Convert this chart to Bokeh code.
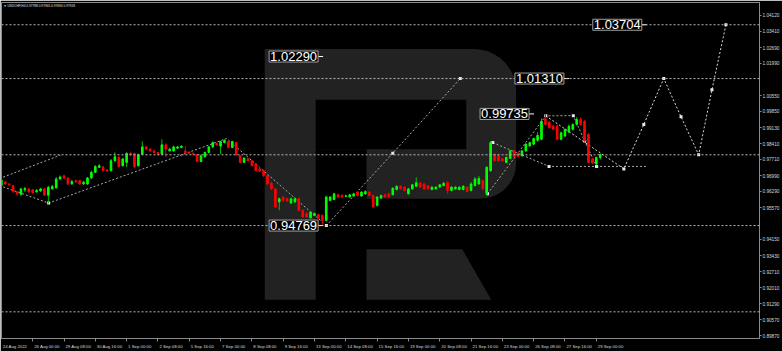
import math
from bokeh.plotting import figure
from bokeh.models import (Range1d, LinearAxis, FixedTicker, Label, NumeralTickFormatter,
                          Span, ColumnDataSource)
from bokeh.embed import file_html
from bokeh.resources import INLINE

# ---------------- data ----------------
header = "\u25BC  USDCHF,H4  0.97788 0.97965 0.97694 0.97918"

opens = [0.9655,0.9671,0.9662,0.9654,0.9627,0.9616,0.9636,0.9640,0.9636,0.9627,
         0.9631,0.9640,0.9612,0.9640,0.9645,0.9684,0.9698,0.9687,0.9662,0.9676,
         0.9677,0.9662,0.9662,0.9689,0.9714,0.9736,0.9737,0.9724,0.9721,0.9765,
         0.9780,0.9743,0.9758,0.9798,0.9797,0.9743,0.9795,0.9827,0.9817,0.9809,
         0.9802,0.9795,0.9836,0.9809,0.9809,0.9821,0.9824,0.9809,0.9802,0.9798,
         0.9792,0.9762,0.9783,0.9802,0.9827,0.9842,0.9831,0.9846,0.9851,0.9824,
         0.9846,0.9787,0.9758,0.9773,0.9765,0.9751,0.9729,0.9721,0.9699,0.9665,
         0.9640,0.9582,0.9604,0.9596,0.9577,0.9582,0.9596,0.9545,0.9530,0.9511,
         0.9522,0.9526,0.9522,0.9500,0.9589,0.9593,0.9614,0.9611,0.9607,0.9604,
         0.9608,0.9626,0.9608,0.9618,0.9626,0.9611,0.9567,0.9599,0.9614,0.9618,
         0.9614,0.9637,0.9652,0.9648,0.9618,0.9640,0.9652,0.9667,0.9662,0.9655,
         0.9637,0.9640,0.9648,0.9655,0.9669,0.9633,0.9640,0.9637,0.9637,0.9648,
         0.9633,0.9655,0.9662,0.9677,0.9618,0.9721,0.9795,0.9790,0.9773,0.9758,
         0.9776,0.9809,0.9799,0.9787,0.9809,0.9831,0.9839,0.9856,0.9861,0.9952,
         0.9937,0.9919,0.9919,0.9861,0.9875,0.9893,0.9905,0.9927,0.9949,0.9941,
         0.9883,0.9773,0.9751,0.97788]
highs = [0.9686,0.9676,0.9667,0.9658,0.9631,0.9645,0.9649,0.9645,0.9640,0.9638,
         0.9645,0.9645,0.9654,0.9658,0.9693,0.9700,0.9704,0.9693,0.9680,0.9682,
         0.9680,0.9676,0.9693,0.9720,0.9746,0.9751,0.9742,0.9729,0.9773,0.9803,
         0.9786,0.9777,0.9803,0.9803,0.9801,0.9797,0.9852,0.9832,0.9821,0.9814,
         0.9806,0.9861,0.9843,0.9823,0.9832,0.9832,0.9834,0.9830,0.9808,0.9803,
         0.9795,0.9793,0.9806,0.9830,0.9852,0.9846,0.9854,0.9861,0.9854,0.9854,
         0.9850,0.9790,0.9781,0.9777,0.9770,0.9755,0.9737,0.9726,0.9704,0.9671,
         0.9645,0.9601,0.9609,0.9601,0.9601,0.9603,0.9601,0.9548,0.9537,0.9541,
         0.9535,0.9530,0.9526,0.9609,0.9607,0.9623,0.9618,0.9616,0.9614,0.9616,
         0.9623,0.9631,0.9629,0.9634,0.9629,0.9614,0.9607,0.9614,0.9618,0.9623,
         0.9647,0.9656,0.9656,0.9651,0.9645,0.9662,0.9692,0.9671,0.9667,0.9658,
         0.9651,0.9651,0.9662,0.9671,0.9673,0.9651,0.9651,0.9651,0.9656,0.9651,
         0.9671,0.9693,0.9698,0.9682,0.9742,0.9853,0.9799,0.9795,0.9779,0.9784,
         0.9814,0.9814,0.9803,0.9814,0.9843,0.9850,0.9867,0.9892,0.9953,0.99735,
         0.9942,0.9925,0.9925,0.9894,0.9909,0.9925,0.9931,0.9960,0.9958,0.9947,
         0.9887,0.9777,0.9784,0.97965]
lows = [0.9649,0.9658,0.9654,0.9623,0.9609,0.9609,0.9627,0.9623,0.9618,0.9623,
        0.9627,0.9609,0.9574,0.9636,0.9640,0.9680,0.9684,0.9658,0.9658,0.9667,
        0.9658,0.9658,0.9658,0.9684,0.9711,0.9733,0.9718,0.9715,0.9718,0.9762,
        0.9735,0.9740,0.9737,0.9786,0.9733,0.9740,0.9790,0.9812,0.9806,0.9799,
        0.9790,0.9790,0.9781,0.9806,0.9806,0.9817,0.9821,0.9799,0.9795,0.9790,
        0.9759,0.9759,0.9779,0.9799,0.9823,0.9832,0.9795,0.9843,0.9821,0.9821,
        0.9788,0.9755,0.9755,0.9762,0.9740,0.9718,0.9715,0.9693,0.9658,0.9636,
        0.9556,0.9545,0.9585,0.9583,0.9574,0.9579,0.9541,0.9512,0.9512,0.9508,
        0.9519,0.9506,0.94769,0.9495,0.9585,0.9590,0.9601,0.9601,0.9603,0.9601,
        0.9605,0.9607,0.9605,0.9614,0.9607,0.9556,0.9561,0.9596,0.9601,0.9601,
        0.9612,0.9634,0.9637,0.9629,0.9615,0.9636,0.9649,0.9645,0.9637,0.9637,
        0.9634,0.9637,0.9645,0.9651,0.9618,0.9629,0.9637,0.9634,0.9634,0.9625,
        0.9629,0.9651,0.9658,0.9636,0.9612,0.9715,0.9762,0.9762,0.9762,0.9755,
        0.9773,0.9781,0.9781,0.9784,0.9806,0.9828,0.9834,0.9850,0.9856,0.9923,
        0.9909,0.9902,0.9856,0.9856,0.9872,0.9889,0.9900,0.9923,0.9923,0.9850,
        0.9755,0.9751,0.9746,0.97694]
closes = [0.9680,0.9662,0.9658,0.9627,0.9618,0.9640,0.9642,0.9627,0.9623,0.9634,
          0.9640,0.9612,0.9647,0.9651,0.9684,0.9693,0.9689,0.9662,0.9673,0.9671,
          0.9662,0.9670,0.9689,0.9714,0.9739,0.9743,0.9722,0.9721,0.9765,0.9783,
          0.9739,0.9773,0.9798,0.9792,0.9739,0.9792,0.9827,0.9817,0.9809,0.9802,
          0.9795,0.9836,0.9817,0.9817,0.9827,0.9827,0.9830,0.9802,0.9798,0.9795,
          0.9762,0.9787,0.9802,0.9827,0.9846,0.9836,0.9851,0.9856,0.9824,0.9851,
          0.9792,0.9758,0.9777,0.9765,0.9743,0.9721,0.9720,0.9699,0.9662,0.9640,
          0.9560,0.9596,0.9589,0.9586,0.9596,0.9596,0.9545,0.9515,0.9515,0.9537,
          0.9530,0.9508,0.9500,0.9604,0.9604,0.9618,0.9604,0.9604,0.9609,0.9614,
          0.9618,0.9611,0.9626,0.9628,0.9611,0.9560,0.9604,0.9611,0.9604,0.9604,
          0.9643,0.9652,0.9640,0.9633,0.9640,0.9658,0.9667,0.9648,0.9640,0.9640,
          0.9648,0.9648,0.9658,0.9665,0.9633,0.9648,0.9648,0.9648,0.9652,0.9628,
          0.9662,0.9684,0.9687,0.9640,0.9736,0.9846,0.9765,0.9765,0.9765,0.9780,
          0.9809,0.9784,0.9784,0.9809,0.9839,0.9846,0.9864,0.9878,0.9941,0.9927,
          0.9912,0.9905,0.9861,0.9890,0.9905,0.9919,0.9927,0.9949,0.9927,0.9853,
          0.9758,0.9755,0.9780,0.97918]

x_tick_idx = [0, 8, 16, 24, 32, 40, 48, 56, 64, 72, 80, 88, 96, 104, 112, 120, 128, 136, 144, 152]
x_tick_labels = ["24 Aug 2022", "26 Aug 00:00", "29 Aug 08:00", "30 Aug 16:00", "1 Sep 00:00",
                 "2 Sep 08:00", "5 Sep 16:00", "7 Sep 00:00", "8 Sep 08:00", "9 Sep 16:00",
                 "13 Sep 00:00", "14 Sep 08:00", "15 Sep 16:00", "19 Sep 00:00", "20 Sep 08:00",
                 "21 Sep 16:00", "23 Sep 00:00", "26 Sep 08:00", "27 Sep 16:00", "29 Sep 00:00"]

price_ticks = [1.04120, 1.03410, 1.02690, 1.01990, 1.00550, 0.99850, 0.99130, 0.98410,
               0.97710, 0.96990, 0.96290, 0.95570, 0.94150, 0.93430, 0.92710, 0.92010,
               0.91290, 0.90570, 0.89870]

level_prices = [1.03704, 1.01310, 0.97918, 0.94769, 0.90931]
level_texts = ["1.03704", "1.01310", "0.97918", "0.94769", "0.90931"]

callout_texts = ["1.02290", "0.94769", "0.99735", "1.01310", "1.03704"]
callout_prices = [1.02290, 0.94769, 0.99735, 1.01310, 1.03704]
callout_idx = [82.2, 82.2, 136.1, 145.0, 164.9]

# analyst drawings (candle index, price)
upper_x = [-0.5, 15.06]
upper_y = [0.9686, 0.9790]
lower_x = [-0.5, 12.08, 57.54, 83.03]
lower_y = [0.9655, 0.9577, 0.9864, 0.94769]
rise_x = [83.03, 100.0, 117.25]
rise_y = [0.94769, 0.9799, 1.0131]
tri_x = [125.56, 139.93, 152.08, 165.0]
tri_y = [0.9846, 0.9740, 0.9740, 0.9740]
wedge_x = [124.2, 139.09, 146.13, 149.03, 152.08]
wedge_y = [0.9618, 0.9965, 0.9966, 0.9853, 0.9740]
forecast_x = [139.09, 159.05, 164.14, 169.24, 173.65, 178.16, 181.55, 185.12]
forecast_y = [0.9965, 0.9729, 0.9927, 1.0131, 0.9961, 0.97918, 1.0081, 1.03704]

# ---------------- layout ----------------
W, H = 782, 351
FL, FT, FR, FB = 1, 2, 21, 10
FW, FH = W - FL - FR, H - FT - FB
X_START, X_END = 0.03, 193.7
Y_START, Y_END = 0.89744, 1.04694
UX = (X_END - X_START) / FW      # data per pixel (x)
UY = (Y_END - Y_START) / FH      # data per pixel (y)

def px_x(px):
    return X_START + (px - FL) * UX

def px_y(py):
    return Y_END - (py - FT) * UY

p = figure(width=W, height=H, x_range=Range1d(X_START, X_END), y_range=Range1d(Y_START, Y_END),
           x_axis_type=None, y_axis_type=None, output_backend="svg", toolbar_location=None,
           min_border_left=FL, min_border_right=FR, min_border_top=FT, min_border_bottom=FB,
           background_fill_color="black", border_fill_color="black",
           outline_line_color="#8a8a8a", outline_line_width=1)

# ---------------- watermark (decoration) ----------------
WM = "#222222"

def rrect(x0, y0, x1, y1, r_tr=0, r_br=0):
    pts = [(x0, y0)]
    if r_tr:
        for k in range(10):
            a = math.radians(270 + 90 * k / 9)
            pts.append((x1 - r_tr + r_tr * math.cos(a), y0 + r_tr + r_tr * math.sin(a)))
    else:
        pts.append((x1, y0))
    if r_br:
        for k in range(10):
            a = math.radians(90 * k / 9)
            pts.append((x1 - r_br + r_br * math.cos(a), y1 - r_br + r_br * math.sin(a)))
    else:
        pts.append((x1, y1))
    pts.append((x0, y1))
    return [px_x(a) for a, b in pts], [px_y(b) for a, b in pts]

bowl = rrect(265, 49, 517, 200, r_tr=42, r_br=36)
stem = rrect(265, 49, 316, 302)
hole = rrect(316, 100, 467, 150)
notch = rrect(316, 150, 367, 200)
leg = ([px_x(v) for v in (367, 463, 492, 367)], [px_y(v) for v in (251, 251, 302, 302)])
p.patches([bowl[0], stem[0], leg[0]], [bowl[1], stem[1], leg[1]], fill_color=WM, line_color=None)
p.patches([hole[0], notch[0]], [hole[1], notch[1]], fill_color="black", line_color=None)

# ---------------- levels ----------------
for lv in level_prices:
    p.add_layout(Span(location=lv, dimension="width", line_color="#b8b8b8",
                      line_dash="2 2", line_width=1))

# ---------------- drawings ----------------
DRAW = "#a8a8a8"
for xs, ys in [(upper_x, upper_y), (lower_x, lower_y), (rise_x, rise_y),
               (tri_x, tri_y), (wedge_x, wedge_y)]:
    p.line(xs, ys, line_color=DRAW, line_dash="2 2", line_width=1)
p.line(forecast_x, forecast_y, line_color="#d8d8d8", line_dash="2 2", line_width=1)

dot_x = [lower_x[1], lower_x[3]] + rise_x[1:] + tri_x[:3] + wedge_x + forecast_x[1:]
dot_y = [lower_y[1], lower_y[3]] + rise_y[1:] + tri_y[:3] + wedge_y + forecast_y[1:]
p.scatter(dot_x, dot_y, marker="square", size=3, fill_color="#e8e8e8", line_color=None)

# ---------------- candles ----------------
idx = list(range(len(closes)))
bull = [c >= o for o, c in zip(opens, closes)]
src = ColumnDataSource(dict(
    x=idx, h=highs, l=lows,
    top=[max(o, c) for o, c in zip(opens, closes)],
    bot=[min(o, c) for o, c in zip(opens, closes)],
    body=["#00ff00" if b else "#ff0000" for b in bull],
    wick=["#00c000" if b else "#e00000" for b in bull]))
p.segment(x0="x", y0="l", x1="x", y1="h", line_color="wick", line_width=1, source=src)
p.vbar(x="x", width=1.6 * UX, top="top", bottom="bot", fill_color="body",
       line_color="body", line_width=1, source=src)

# ---------------- axes ----------------
SMALL = "Liberation Sans"
XFS = 4.3   # bottom label font size (px)
YFS = 4.7   # price label font size (px)

# Liberation Sans advance widths (em) to left-align labels just right of their tick
_EM = {c: 0.556 for c in "0123456789"}
_EM.update({" ": 0.278, ":": 0.278, "A": 0.667, "S": 0.667, "u": 0.556, "g": 0.556,
            "e": 0.556, "p": 0.556})

def text_w(s, fs):
    return sum(_EM.get(c, 0.556) for c in s) * fs

label_centers = [round(t + (1.5 + text_w(s, XFS) / 2) * UX, 4)
                 for t, s in zip(x_tick_idx, x_tick_labels)]

xax = LinearAxis(ticker=FixedTicker(ticks=label_centers, minor_ticks=x_tick_idx),
                 major_label_overrides=dict(zip(label_centers, x_tick_labels)),
                 major_tick_out=0, major_tick_in=0, major_tick_line_color=None,
                 minor_tick_out=3, minor_tick_in=0, minor_tick_line_color="#8a8a8a",
                 axis_line_color="#8a8a8a",
                 major_label_text_font_size=f"{XFS}px", major_label_text_color="#d8d8d8",
                 major_label_text_font=SMALL, major_label_standoff=2)
p.add_layout(xax, "below")

yax = LinearAxis(ticker=FixedTicker(ticks=price_ticks, minor_ticks=[]),
                 formatter=NumeralTickFormatter(format="0.00000"),
                 major_tick_out=2, major_tick_in=0, major_label_standoff=1,
                 major_tick_line_color="#8a8a8a", axis_line_color="#8a8a8a",
                 minor_tick_line_color=None, major_label_text_font_size=f"{YFS}px",
                 major_label_text_color="#d8d8d8", major_label_text_font=SMALL)
p.add_layout(yax, "right")

for lv, txt in zip(level_prices, level_texts):
    p.add_layout(Label(x=X_END, y=lv, x_offset=1, text=txt, text_align="left",
                       text_baseline="middle", text_font=SMALL, text_font_size=f"{YFS}px",
                       text_color="black", background_fill_color="white", padding=1))

# ---------------- callouts ----------------
for txt, pr, ax in zip(callout_texts, callout_prices, callout_idx):
    p.segment(x0=[ax - 5 * UX], y0=[pr], x1=[ax], y1=[pr], line_color="white", line_width=1)
    p.add_layout(Label(x=ax, y=pr, x_offset=-5, text=txt, text_align="right",
                       text_baseline="middle", text_font="Liberation Sans",
                       text_font_size="13px", text_color="white",
                       background_fill_color="black", border_line_color="#a0a0a0",
                       border_line_width=1, padding=1))

p.add_layout(Label(x=px_x(3), y=px_y(5), text=header, text_align="left",
                   text_baseline="middle", text_font=SMALL, text_font_size="3.2px",
                   text_color="#e0e0e0"))

open("out.html", "w").write(file_html(p, INLINE))
